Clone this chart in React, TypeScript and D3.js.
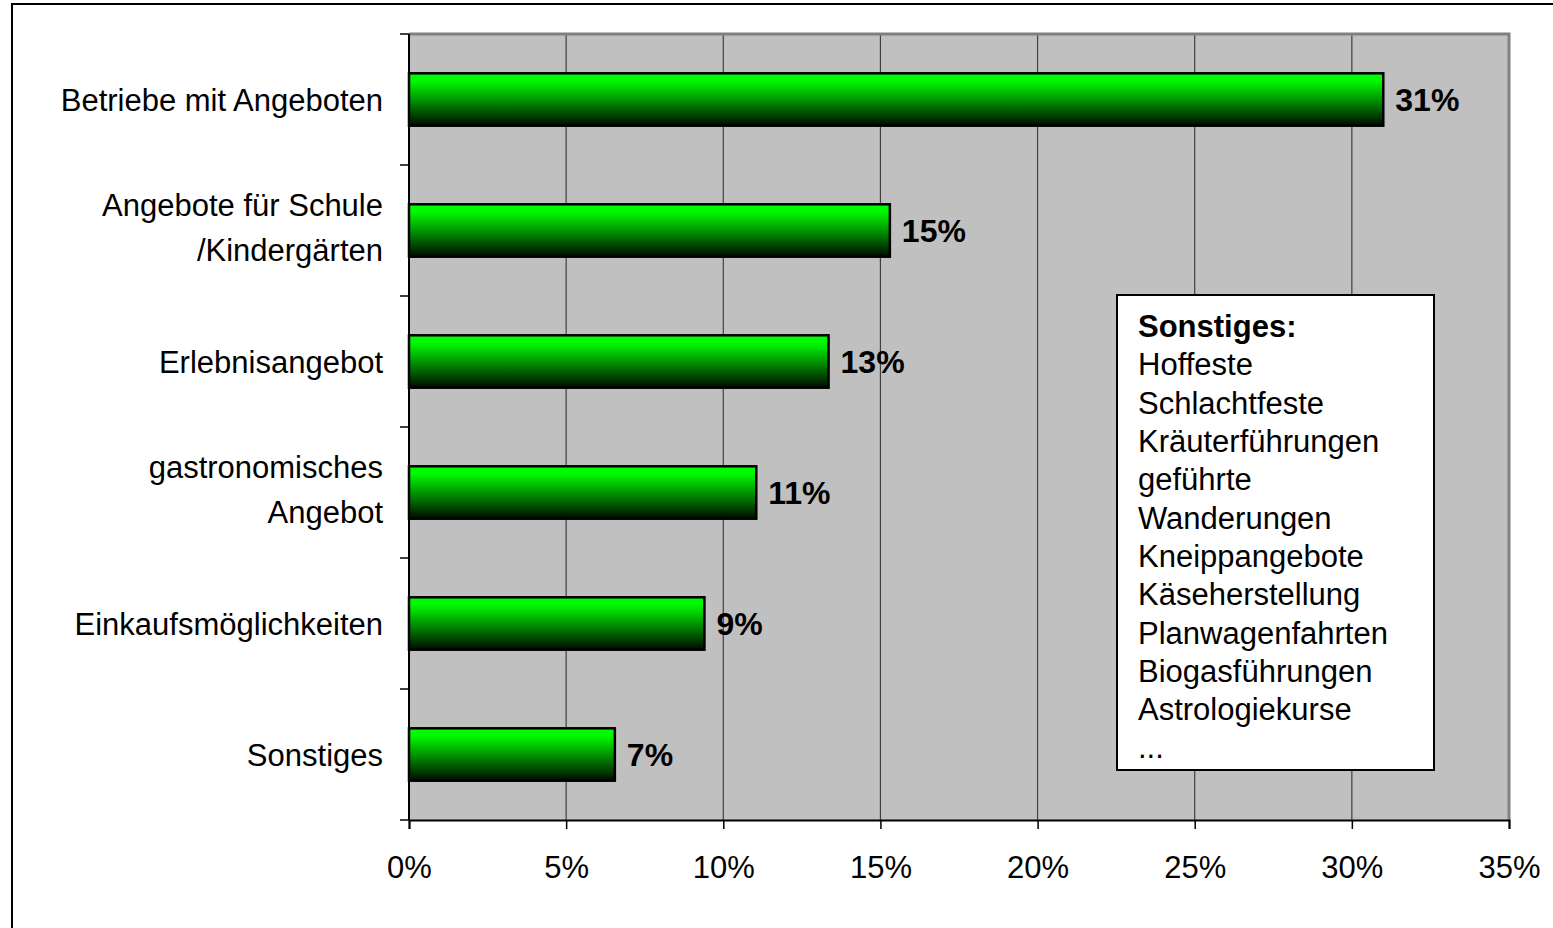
import React, { useEffect, useRef } from 'react';
import * as d3 from 'd3';

// Kategorien (mit Zeilenumbrüchen wie im Original)
const categories: string[][] = [
  ['Betriebe mit Angeboten'],
  ['Angebote für Schule', '/Kindergärten'],
  ['Erlebnisangebot'],
  ['gastronomisches', 'Angebot'],
  ['Einkaufsmöglichkeiten'],
  ['Sonstiges'],
];
const values = [31.0, 15.3, 13.35, 11.05, 9.4, 6.55];
const valueLabels = ['31%', '15%', '13%', '11%', '9%', '7%'];
const xTicks = [0, 5, 10, 15, 20, 25, 30, 35];
const noteTitle = 'Sonstiges:';
const noteLines = [
  'Hoffeste',
  'Schlachtfeste',
  'Kräuterführungen',
  'geführte',
  'Wanderungen',
  'Kneippangebote',
  'Käseherstellung',
  'Planwagenfahrten',
  'Biogasführungen',
  'Astrologiekurse',
  '...',
];

const FONT = '"Liberation Sans", Arial, sans-serif';

const App: React.FC = () => {
  const ref = useRef<SVGSVGElement | null>(null);

  useEffect(() => {
    if (!ref.current) return;
    const svg = d3.select(ref.current);
    svg.selectAll('*').remove();

    const width = 1553;
    const height = 928;
    const plot = { left: 409, top: 34, right: 1509, bottom: 820 };

    // Rahmen
    svg.append('rect')
      .attr('x', 12).attr('y', 4)
      .attr('width', width + 20).attr('height', height + 20)
      .attr('fill', '#fff').attr('stroke', '#000').attr('stroke-width', 2);

    const x = d3.scaleLinear().domain([0, 35]).range([plot.left, plot.right]);
    const y = d3.scaleBand<number>()
      .domain(d3.range(categories.length))
      .range([plot.top, plot.bottom])
      .paddingInner(0.6)
      .paddingOuter(0.3);

    const defs = svg.append('defs');
    const grad = defs.append('linearGradient')
      .attr('id', 'barGrad')
      .attr('x1', 0).attr('y1', 0).attr('x2', 0).attr('y2', 1);
    grad.append('stop').attr('offset', '0%').attr('stop-color', '#00ff00');
    grad.append('stop').attr('offset', '15%').attr('stop-color', '#00f800');
    grad.append('stop').attr('offset', '100%').attr('stop-color', '#000a00');

    // Zeichenfläche
    svg.append('rect')
      .attr('x', plot.left).attr('y', plot.top)
      .attr('width', plot.right - plot.left).attr('height', plot.bottom - plot.top)
      .attr('fill', '#c0c0c0');

    // Gitterlinien
    svg.append('g')
      .selectAll('line')
      .data(xTicks.slice(1, -1))
      .enter()
      .append('line')
      .attr('x1', (d) => x(d)).attr('x2', (d) => x(d))
      .attr('y1', plot.top).attr('y2', plot.bottom)
      .attr('stroke', '#404040').attr('stroke-width', 1.2);

    // Rahmen oben/rechts grau
    svg.append('path')
      .attr('d', `M${plot.left},${plot.top}H${plot.right}V${plot.bottom}`)
      .attr('fill', 'none').attr('stroke', '#808080').attr('stroke-width', 3);

    // Balken
    svg.append('g')
      .selectAll('rect')
      .data(values)
      .enter()
      .append('rect')
      .attr('x', x(0))
      .attr('y', (_, i) => y(i)!)
      .attr('width', (d) => x(d) - x(0))
      .attr('height', y.bandwidth())
      .attr('fill', 'url(#barGrad)')
      .attr('stroke', '#000').attr('stroke-width', 2.5);

    // Werte
    svg.append('g')
      .selectAll('text')
      .data(values)
      .enter()
      .append('text')
      .attr('x', (d) => x(d) + 12)
      .attr('y', (_, i) => y(i)! + y.bandwidth() / 2)
      .attr('dy', '0.36em')
      .attr('font-family', FONT).attr('font-size', 32).attr('font-weight', 'bold')
      .attr('fill', '#000')
      .text((_, i) => valueLabels[i]);

    // Y-Achse
    const step = (plot.bottom - plot.top) / categories.length;
    svg.append('line')
      .attr('x1', plot.left).attr('x2', plot.left)
      .attr('y1', plot.top).attr('y2', plot.bottom)
      .attr('stroke', '#000').attr('stroke-width', 2);
    svg.append('g')
      .selectAll('line')
      .data(d3.range(categories.length + 1))
      .enter()
      .append('line')
      .attr('x1', plot.left - 9).attr('x2', plot.left)
      .attr('y1', (i) => plot.top + i * step).attr('y2', (i) => plot.top + i * step)
      .attr('stroke', '#000').attr('stroke-width', 1.5);

    const catG = svg.append('g')
      .attr('font-family', FONT).attr('font-size', 31).attr('fill', '#000')
      .attr('text-anchor', 'end');
    categories.forEach((lines, i) => {
      const cy = y(i)! + y.bandwidth() / 2 - (lines.length > 1 ? 3.5 : 0);
      const lh = 45;
      lines.forEach((ln, j) => {
        catG.append('text')
          .attr('x', 383)
          .attr('y', cy + (j - (lines.length - 1) / 2) * lh)
          .attr('dy', '0.36em')
          .text(ln);
      });
    });

    // X-Achse
    const xAxis = d3.axisBottom(x)
      .tickValues(xTicks)
      .tickSize(9)
      .tickPadding(27)
      .tickFormat((d) => `${d}%`);
    const xg = svg.append('g')
      .attr('transform', `translate(0,${plot.bottom})`)
      .call(xAxis);
    xg.select('.domain').attr('stroke', '#000').attr('stroke-width', 2);
    xg.selectAll('.tick line').attr('stroke', '#000').attr('stroke-width', 1.5);
    xg.selectAll('.tick text')
      .attr('font-family', FONT).attr('font-size', 31).attr('fill', '#000');

    // Hinweisbox
    const box = { x: 1117, y: 295, w: 317, h: 475 };
    svg.append('rect')
      .attr('x', box.x).attr('y', box.y).attr('width', box.w).attr('height', box.h)
      .attr('fill', '#fff').attr('stroke', '#000').attr('stroke-width', 2);
    const noteG = svg.append('g')
      .attr('font-family', FONT).attr('font-size', 31).attr('fill', '#000');
    const lineH = 38.3;
    noteG.append('text')
      .attr('x', box.x + 21).attr('y', 326).attr('dy', '0.36em')
      .attr('font-weight', 'bold')
      .text(noteTitle);
    noteLines.forEach((t, i) => {
      noteG.append('text')
        .attr('x', box.x + 21).attr('y', 326 + (i + 1) * lineH).attr('dy', '0.36em')
        .text(t);
    });
  }, []);

  return (
    <svg
      ref={ref}
      width={1553}
      height={928}
      style={{ position: 'absolute', left: 0, top: 0, background: '#fff' }}
    />
  );
};

export default App;
